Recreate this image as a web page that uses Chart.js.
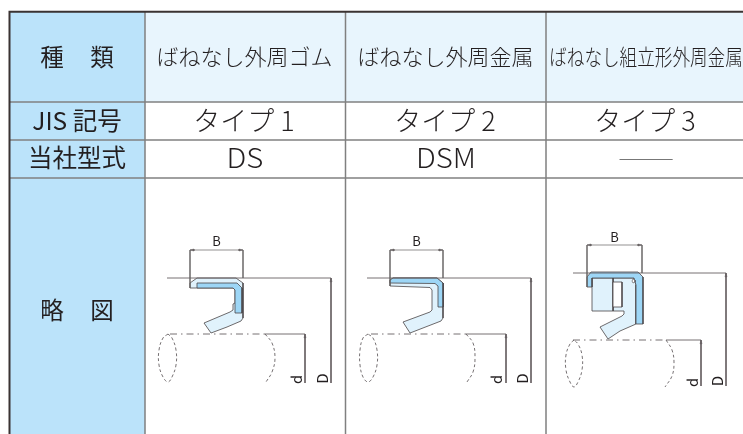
<!DOCTYPE html>
<html>
<head>
<meta charset="utf-8">
<title>オイルシール 種類</title>
<script src="https://cdn.jsdelivr.net/npm/chart.js@4"></script>
<style>
  html, body { margin: 0; padding: 0; background: #fff; }
  canvas { display: block; }
</style>
</head>
<body>
<canvas id="chart" width="743" height="434"></canvas>
<script>
// table text
const rowHeaders = ['JIS 記号', '当社型式'];
const columnHeaders = ['ばねなし外周ゴム', 'ばねなし外周金属', 'ばねなし組立形外周金属'];
const jisTypes = ['タイプ 1', 'タイプ 2', 'タイプ 3'];
const modelNames = ['DS', 'DSM', '――'];

// table grid, in picture pixels
const columnLines = [145, 345.5, 546];
const rowLines = [102, 140, 178];
const columnCenters = [245, 446, 646];

// seal 1 outlines
const seal1Body = [[190,283],[197,278],[236,278],[243,283],[243,318],[241,321],[227,327],[211,333],[204,323],[230,312],[233,310],[233,304],[235,303],[235,290],[233,288],[191,288],[190,286],[190,283]];
const seal1Metal = [[197,283],[237,283],[242,288],[242,313],[235,313],[235,290],[233,288],[197,288],[197,283]];
const seal1Housing = [[167,278],[331,278],[331,383]];
const seal1Shaft = [[265,334],[305,334],[305,383]];
const seal1ShaftDash = [[170,334],[265,334]];
const seal1Left = [[168,334],[163,338],[159,350],[159,365],[163,377],[168,382],[172,377],[176,365],[176,350],[172,338],[168,334]];
const seal1Right = [[265,334],[272,343],[275,358],[272,372],[266,382]];

// seal 2 outlines
const seal2Body = [[390,286],[390,280],[393,278],[437,278],[443,283],[443,318],[441,321],[410,333],[403,322],[430,312],[432,310],[432,290],[430,287.5],[390,286]];
const seal2Metal = [[390,283],[390,280],[393,278],[437,278],[443,283],[443,307],[438,307],[438,286],[435,283.5],[390,283]];
const seal2Housing = [[367,278],[531,278],[531,383]];
const seal2Shaft = [[466,334],[506,334],[506,383]];
const seal2ShaftDash = [[371,334],[466,334]];
const seal2Left = [[368,334],[363,338],[360,350],[360,365],[363,377],[368,382],[373,377],[377,365],[377,350],[373,338],[368,334]];
const seal2Right = [[466,334],[473,343],[475,358],[473,372],[467,382]];

// seal 3 outlines
const seal3Metal = [[587,287],[587,277],[591,272],[638,272],[643,277],[643,324],[636,324],[636,285],[634,278],[592,278],[592,287],[587,287]];
const seal3Case = [[592,278],[613,278],[613,311],[592,311],[592,278]];
const seal3Body = [[613,278],[634,278],[636,285],[636,324],[620,331],[608,339],[600,327],[622,316],[624,314],[624,311],[613,311],[613,278]];
const seal3Window = [[613,282],[622,282],[622,307],[613,307],[613,282]];
const seal3Spring = [[633,279],[635,280],[635,282],[633,283],[632,281],[633,279]];
const seal3Housing = [[573,273],[726,273],[726,386]];
const seal3Shaft = [[666,340],[701,340],[701,386]];
const seal3ShaftDash = [[573,340],[666,340]];
const seal3Left = [[574,340],[570,344],[566,355],[566,370],[570,382],[574,387],[578,382],[582,370],[582,355],[578,344],[574,340]];
const seal3Right = [[666,340],[672,350],[674,363],[672,376],[665,387]];

// B, d, D dimension lines
const dimLines = [
  [[190,250],[243,250]], [[190,250],[190,288]], [[243,250],[243,278]],
  [[390,250],[443,250]], [[390,250],[390,286]], [[443,250],[443,278]],
  [[587,245],[642,245]], [[587,245],[587,287]], [[642,245],[642,273]]
];
const arrowHeads = [
  [[190,250],[194,249],[194,251],[190,250]], [[243,250],[239,249],[239,251],[243,250]],
  [[390,250],[394,249],[394,251],[390,250]], [[443,250],[439,249],[439,251],[443,250]],
  [[587,245],[591,244],[591,246],[587,245]], [[642,245],[638,244],[638,246],[642,245]],
  [[331,278],[330,282],[332,282],[331,278]], [[305,334],[304,338],[306,338],[305,334]],
  [[531,278],[530,282],[532,282],[531,278]], [[506,334],[505,338],[507,338],[506,334]],
  [[726,273],[725,277],[727,277],[726,273]], [[701,340],[700,344],[702,344],[701,340]]
];

const HEADER_BLUE = '#bbe3fa';
const PALE_BLUE = '#e8f5fd';
const SEAL_PALE = '#e0f2fc';
const METAL_BLUE = '#9dd6f6';
const GRID = '#808080';
const INK = '#231f20';
const OUTLINE = '#4a4546';
const THIN = '#666163';

function toPoints(list) {
  return list.map(([x, y]) => ({ x, y }));
}

function box(x0, y0, x1, y1) {
  return [[x0, y0], [x1, y0], [x1, y1], [x0, y1], [x0, y0]];
}

// later entries paint over earlier ones
const layers = [];

function shape(list, fill, line, width, extra) {
  layers.push(Object.assign({
    data: toPoints(list),
    showLine: true,
    pointRadius: 0,
    borderColor: line || 'transparent',
    borderWidth: width || 0,
    backgroundColor: fill || 'transparent',
    fill: fill ? 'shape' : false,
    tension: 0
  }, extra || {}));
}

// cell backgrounds
shape(box(9, 12, columnLines[0], 434), HEADER_BLUE);
shape(box(columnLines[0], 12, 743, rowLines[0]), PALE_BLUE);

// grid
rowLines.forEach(y => shape([[9, y], [743, y]], null, GRID, 1.5));
columnLines.forEach(x => shape([[x, 12], [x, 434]], null, GRID, 1.5));
shape([[9.5, 434], [9.5, 11.8], [743, 11.8]], null, '#3a3332', 2);

// seal drawings
shape(seal1Body, SEAL_PALE, OUTLINE, 0.8);
shape(seal1Metal, METAL_BLUE, OUTLINE, 0.8);
shape(seal2Body, SEAL_PALE, OUTLINE, 0.8);
shape(seal2Metal, METAL_BLUE, OUTLINE, 0.8);
shape(seal3Body, SEAL_PALE, OUTLINE, 0.8);
shape(seal3Case, SEAL_PALE, OUTLINE, 0.8);
shape(seal3Window, '#ffffff', OUTLINE, 0.8);
shape(seal3Metal, METAL_BLUE, OUTLINE, 0.8);
shape(seal3Spring, '#ffffff', OUTLINE, 0.6);

[seal1Housing, seal1Shaft, seal2Housing, seal2Shaft, seal3Housing, seal3Shaft].forEach(l => shape(l, null, THIN, 0.9));
[seal1ShaftDash, seal2ShaftDash, seal3ShaftDash].forEach(l => shape(l, null, THIN, 0.9, { borderDash: [7, 4, 1.5, 4] }));
[seal1Left, seal2Left, seal3Left, seal1Right, seal2Right, seal3Right].forEach(l => shape(l, null, THIN, 0.9, { borderDash: [3, 2.5], tension: 0.4 }));
dimLines.forEach(l => shape(l, null, THIN, 0.7));
arrowHeads.forEach(l => shape(l, THIN, THIN, 0.5));

layers.forEach((layer, i) => { layer.order = layers.length - i; });

const FONT = '"Noto Sans CJK JP", "Noto Sans", sans-serif';

// table text and dimension letters, placed through the scales
const tableText = {
  id: 'tableText',
  afterDatasetsDraw(chart) {
    const { ctx, scales } = chart;
    const put = (text, x, y, size, opts) => {
      const o = opts || {};
      ctx.save();
      ctx.translate(scales.x.getPixelForValue(x), scales.y.getPixelForValue(y));
      if (o.rotate) ctx.rotate(o.rotate);
      if (o.squeeze) ctx.scale(o.squeeze, 1);
      ctx.font = `${o.weight || 300} ${size}px ${FONT}`;
      ctx.fillStyle = o.color || INK;
      ctx.textAlign = 'center';
      ctx.textBaseline = 'middle';
      ctx.fillText(text, 0, 0);
      ctx.restore();
    };

    put('種', 52, 57, 23.5, { weight: 400 });
    put('類', 102, 57, 23.5, { weight: 400 });
    put('略', 52, 310, 23.5, { weight: 400 });
    put('図', 102, 310, 23.5, { weight: 400 });
    put(rowHeaders[0], 77, 121, 24.5, { weight: 400 });
    put(rowHeaders[1], 77, 158, 24.5, { weight: 400 });

    columnHeaders.forEach((text, i) => {
      put(text, columnCenters[i] - (i === 2 ? 0 : 0.5), 57, 22, i === 2 ? { squeeze: 0.8 } : null);
    });
    jisTypes.forEach((text, i) => put(text, columnCenters[i] - 1, 121, 27));
    modelNames.forEach((text, i) => {
      if (i === 2) put(text, columnCenters[i], 159, 26, { color: '#777777', squeeze: 1.1 });
      else put(text, columnCenters[i], 158, 27.5, { squeeze: 1.07 });
    });

    [216.5, 416.5, 614.5].forEach((x, i) => put('B', x, i === 2 ? 237 : 241.5, 13, { weight: 400 }));
    [[296.5, 379.5], [496.5, 379.5], [692, 382.5]].forEach(([x, y]) => put('d', x, y, 14.5, { weight: 400, rotate: -Math.PI / 2 }));
    [[322.3, 378.5], [522.3, 378.5], [717, 381]].forEach(([x, y]) => put('D', x, y, 15, { weight: 400, rotate: -Math.PI / 2 }));
  }
};

new Chart(document.getElementById('chart'), {
  type: 'scatter',
  data: { datasets: layers },
  options: {
    responsive: false,
    animation: false,
    layout: { padding: 0 },
    plugins: { legend: { display: false }, tooltip: { enabled: false } },
    scales: {
      x: { type: 'linear', min: 0, max: 743, display: false },
      y: { type: 'linear', min: 0, max: 434, reverse: true, display: false }
    }
  },
  plugins: [tableText]
});
</script>
</body>
</html>
